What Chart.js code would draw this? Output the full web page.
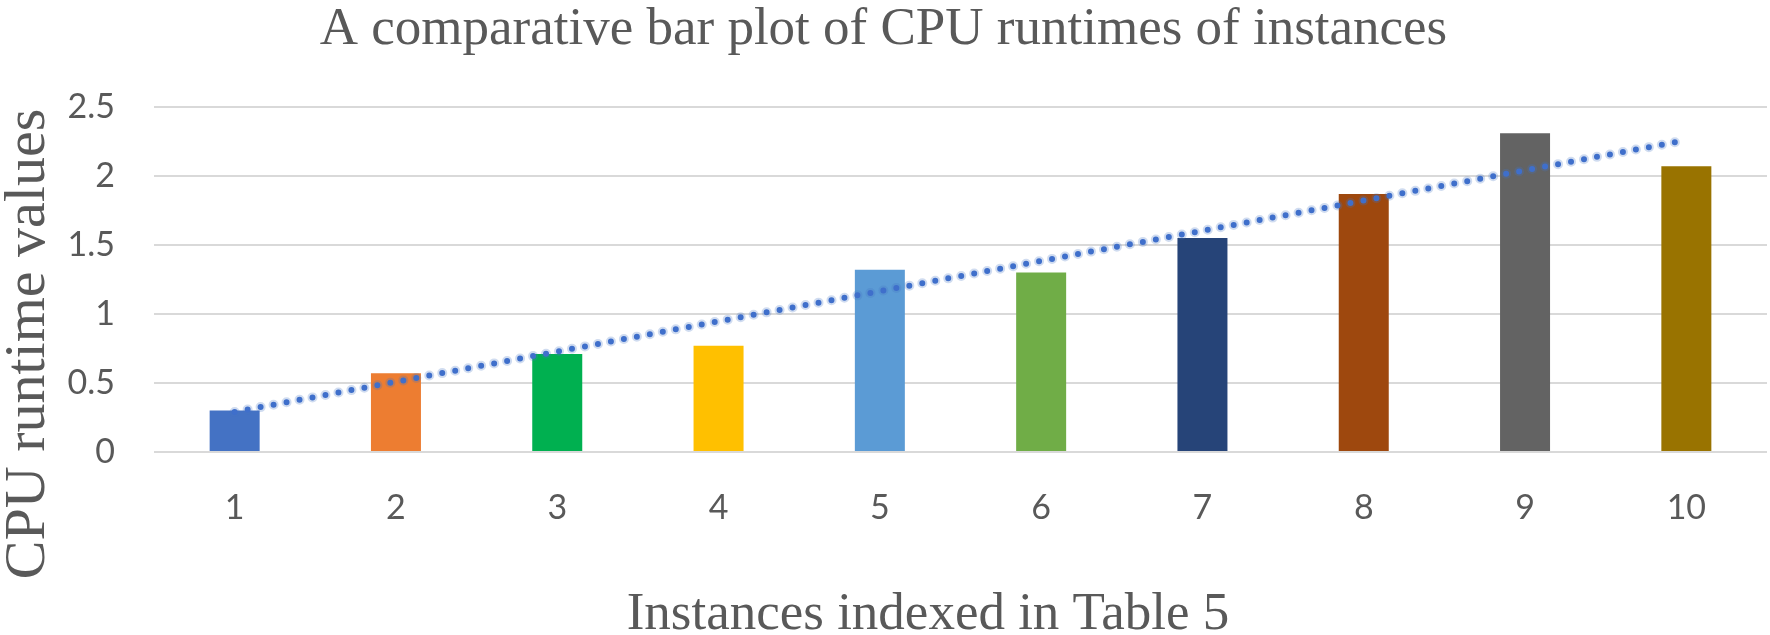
<!DOCTYPE html>
<html lang="en">
<head>
  <meta charset="UTF-8" />
  <title>CPU runtimes of instances</title>
  <script src="https://cdn.jsdelivr.net/npm/chart.js"></script>
  <style>
    body {
      margin: 0;
      background: #ffffff;
    }

    #wrap {
      width: 1770px;
      height: 635px;
      position: relative;
    }
  </style>
</head>
<body>
  <div id="wrap">
    <canvas id="cpuChart"></canvas>
  </div>

  <script>
    // values
    const instances = ['1', '2', '3', '4', '5', '6', '7', '8', '9', '10'];
    const cpuRuntimes = [0.30, 0.57, 0.71, 0.77, 1.32, 1.30, 1.55, 1.87, 2.31, 2.07];
    const barColors = ['#4472C4', '#ED7D31', '#00B050', '#FFC000', '#5B9BD5',
                       '#70AD47', '#264478', '#9E480E', '#636363', '#997300'];
    // dotted trend line, only its two ends are known
    const trendValues = [0.29, null, null, null, null, null, null, null, null, 2.26];
    const yTicks = [0, 0.5, 1, 1.5, 2, 2.5];

    const chartTitle = 'A comparative bar plot of CPU runtimes of instances';
    const xTitle = 'Instances indexed in Table 5';
    const yTitle = 'CPU runtime values';

    const textGrey = '#595959';
    const serif = "'Liberation Serif', 'Times New Roman', serif";

    // axis titles sit off-centre in the original, so draw them by hand
    const axisTitles = {
      id: 'axisTitles',
      afterDraw(chart) {
        const ctx = chart.ctx;
        ctx.save();
        ctx.fillStyle = textGrey;
        ctx.textAlign = 'center';
        ctx.textBaseline = 'alphabetic';

        ctx.font = '53px ' + serif;
        ctx.fillText(xTitle, 928, 629);

        ctx.translate(44, 344);
        ctx.rotate(-Math.PI / 2);
        ctx.font = '58px ' + serif;
        ctx.fillText(yTitle, 0, 0);
        ctx.restore();
      }
    };

    const ctx = document.getElementById('cpuChart').getContext('2d');

    new Chart(ctx, {
      type: 'bar',
      data: {
        labels: instances,
        datasets: [
          {
            type: 'line',
            label: 'Trend',
            data: trendValues,
            borderColor: '#3F6FCB',
            borderWidth: 6,
            borderDash: [0, 13.2],
            borderCapStyle: 'round',
            spanGaps: true,
            pointRadius: 0,
            fill: false,
            order: 0
          },
          {
            type: 'line',
            label: 'Trend glow',
            data: trendValues,
            borderColor: 'rgba(68, 114, 196, 0.25)',
            borderWidth: 10,
            borderDash: [0, 13.2],
            borderCapStyle: 'round',
            spanGaps: true,
            pointRadius: 0,
            fill: false,
            order: 1
          },
          {
            label: 'CPU runtime',
            data: cpuRuntimes,
            backgroundColor: barColors,
            borderWidth: 0,
            barPercentage: 0.31,
            categoryPercentage: 1.0,
            order: 2
          }
        ]
      },
      options: {
        responsive: true,
        maintainAspectRatio: false,
        animation: false,
        layout: {
          padding: { left: 0, right: 3, top: 0, bottom: 0 }
        },
        plugins: {
          legend: { display: false },
          tooltip: { enabled: false },
          title: {
            display: true,
            text: chartTitle,
            color: textGrey,
            font: { family: serif, size: 53, weight: 'normal', lineHeight: 1 },
            padding: { top: 4, bottom: 50 }
          }
        },
        scales: {
          x: {
            grid: { display: false },
            border: { display: false },
            ticks: {
              color: textGrey,
              font: { family: 'Lato', size: 34 },
              padding: 28,
              autoSkip: false,
              maxRotation: 0
            },
            afterFit: (scale) => { scale.height = 183; }
          },
          y: {
            min: yTicks[0],
            max: yTicks[yTicks.length - 1],
            border: { display: false },
            grid: { color: '#D9D9D9', lineWidth: 2, drawTicks: false },
            ticks: {
              stepSize: 0.5,
              color: textGrey,
              font: { family: 'Lato', size: 34 },
              padding: 39,
              callback: (value) => String(value)
            },
            afterFit: (scale) => { scale.width = 154; }
          }
        }
      },
      plugins: [axisTitles]
    });
  </script>
</body>
</html>
